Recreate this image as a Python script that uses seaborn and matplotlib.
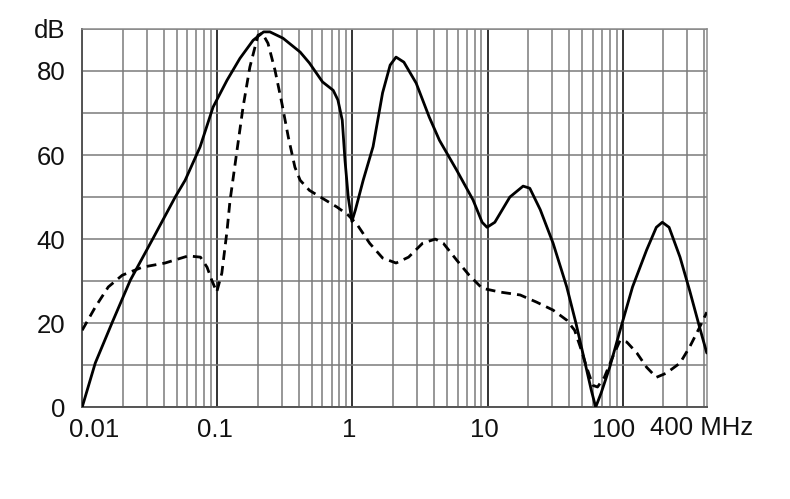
import numpy as np
import pandas as pd
import matplotlib
matplotlib.use("Agg")
import matplotlib.pyplot as plt
import matplotlib.transforms as mtransforms
import seaborn as sns
from matplotlib.ticker import LogLocator, NullFormatter, FixedLocator

# Değerler (grafikten okunan yaklaşık noktalar)
solid_f = [0.01, 0.0125, 0.0167, 0.0227, 0.0335, 0.0488, 0.0578, 0.0745, 0.093, 0.118,
           0.147, 0.184, 0.22, 0.245, 0.306, 0.41, 0.48, 0.6, 0.72, 0.78, 0.84, 0.88,
           0.93, 0.99, 1.05, 1.2, 1.42, 1.67, 1.9, 2.1, 2.4, 2.96, 3.7, 4.4, 5.9, 7.8,
           9.1, 9.9, 11.3, 14.6, 18.3, 20.5, 24.5, 30.5, 38.5, 45, 52, 58.5, 63, 69,
           80, 95.5, 118, 150, 177, 196, 220, 265, 312, 370, 418]
solid_db = [0, 10.5, 20.2, 30.2, 40.2, 50, 54, 61.9, 71.4, 77.8,
            83, 87.3, 89.3, 89.3, 87.8, 84.5, 81.9, 77.4, 75.4, 73.1, 68.3, 58.8,
            50, 44.2, 46.9, 54, 62, 74.8, 81.4, 83.3, 82.1, 77.1, 69, 63.5, 56.4, 49.3,
            44, 42.8, 44, 50, 52.6, 52.1, 47, 39, 28.6, 20, 11.2, 4, 0, 3.3,
            9.5, 18.3, 28.6, 37.4, 42.8, 44, 42.8, 35.7, 27.8, 19, 12.9]

dash_f = [0.01, 0.0125, 0.0156, 0.0198, 0.0278, 0.041, 0.061, 0.075, 0.084, 0.091,
          0.099, 0.108, 0.118, 0.124, 0.139, 0.155, 0.174, 0.2, 0.215, 0.237, 0.267,
          0.3, 0.335, 0.375, 0.41, 0.48, 0.6, 0.77, 0.93, 1.08, 1.34, 1.67, 2.1, 2.6,
          3.3, 4.1, 4.7, 5.9, 7.3, 9.1, 12.3, 17.4, 23, 30.5, 38.5, 44, 48.5, 54, 60,
          65, 73, 84, 95.5, 107, 127, 150, 177, 210, 265, 312, 370, 418]
dash_db = [18.3, 23.8, 28.6, 31.4, 33.3, 34.3, 36, 35.7, 33.3, 30.2,
           27.4, 31.9, 42, 49, 60.5, 71.4, 80.9, 88.5, 89, 86.6, 80.2,
           72.4, 64.3, 57.1, 54, 51.6, 49.7, 47.6, 45.7, 43.5, 39, 35.5, 34.3, 35.7,
           39, 40, 39, 35, 31.4, 28.3, 27.4, 26.7, 25, 23.1, 20.7, 18.3, 14.3, 9.5, 5.2,
           4.8, 7.1, 11.9, 15.9, 15.5, 12.9, 9.5, 7.1, 8.1, 10.5, 14.3, 19, 22.6]

xtick_vals = [0.01, 0.1, 1, 10, 100]
xtick_labels = ["0.01", "0.1", "1", "10", "100"]
ytick_vals = [0, 20, 40, 60, 80, 90]
ytick_labels = ["0", "20", "40", "60", "80", "dB"]

sns.set_style("white")
plt.rcParams['font.family'] = ['Liberation Sans', 'DejaVu Sans']

fig = plt.figure(figsize=(7.9, 4.99), dpi=100)
ax = fig.add_axes([0.104, 0.184, 0.791, 0.758])

df_solid = pd.DataFrame({"f": solid_f, "db": solid_db})
df_dash = pd.DataFrame({"f": dash_f, "db": dash_db})

sns.lineplot(data=df_solid, x="f", y="db", ax=ax, color="black", lw=2.0, zorder=5)
sns.lineplot(data=df_dash, x="f", y="db", ax=ax, color="black", lw=2.0, zorder=5,
             linestyle=(0, (3.5, 2.2)))

ax.set_xscale("log")
ax.set_xlim(0.01, 420)
ax.set_ylim(0, 90)

ax.xaxis.set_major_locator(FixedLocator(xtick_vals))
ax.set_xticklabels(xtick_labels)
ax.xaxis.set_minor_locator(LogLocator(base=10, subs=np.arange(2, 10)))
ax.xaxis.set_minor_formatter(NullFormatter())
ax.set_yticks(ytick_vals)
ax.set_yticklabels(ytick_labels)
ax.yaxis.set_minor_locator(FixedLocator([10, 30, 50, 70]))

ax.grid(True, which="major", axis="x", color="#333333", lw=1.4)
ax.grid(True, which="minor", axis="x", color="#7a7a7a", lw=1.1)
ax.grid(True, which="both", axis="y", color="#7a7a7a", lw=1.1)

ax.tick_params(axis="both", which="both", length=0, labelsize=18.5, colors="#111111")
ax.tick_params(axis="x", pad=8)
ax.tick_params(axis="y", pad=12)

# etiketleri orijinaldeki gibi biraz kaydır
label_shift = [12, -2, -3, -3, -9]
for lab, dx in zip(ax.get_xticklabels(), label_shift):
    lab.set_transform(lab.get_transform() + mtransforms.ScaledTranslation(dx / 100, 0, fig.dpi_scale_trans))

for side in ["top", "right"]:
    ax.spines[side].set_color("#8a8a8a")
    ax.spines[side].set_linewidth(1.1)
for side in ["left", "bottom"]:
    ax.spines[side].set_color("#555555")
    ax.spines[side].set_linewidth(1.4)

ax.set_xlabel("")
ax.set_ylabel("")

fig.text(0.823, 0.142, "400 MHz", ha="left", va="center", fontsize=18.5, color="#111111")

plt.savefig("out.png", dpi=100)
plt.close()
